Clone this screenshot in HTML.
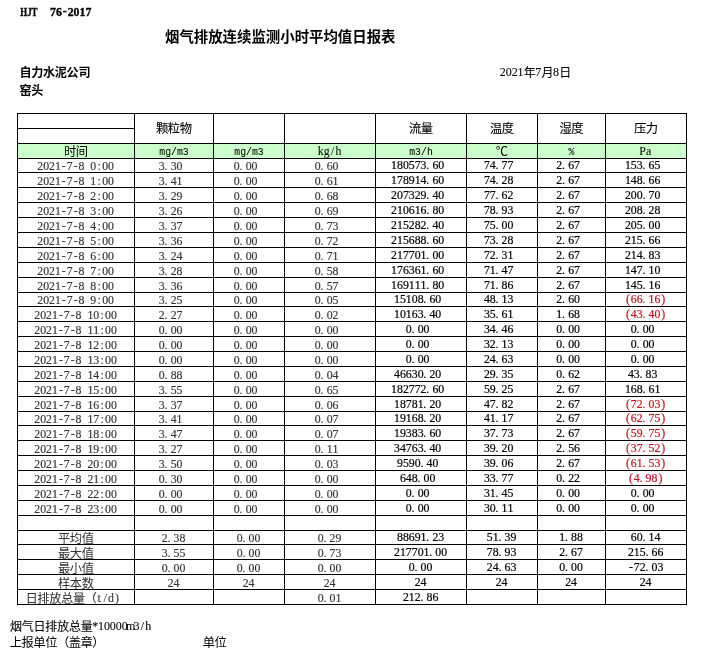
<!DOCTYPE html>
<html lang="zh-CN"><head><meta charset="utf-8"><title>烟气排放连续监测小时平均值日报表</title>
<style>
html,body{margin:0;padding:0;background:#fff}
body{width:708px;height:653px;position:relative;overflow:hidden;color:#000;
  font-family:"Liberation Serif","Noto Sans CJK SC",serif;font-size:11.8px;line-height:12px}
.t,.f{position:absolute;margin:0;white-space:pre}
.t{height:12px;font-weight:normal;font-size:inherit}
svg{display:block;overflow:visible}
text{font-family:"Liberation Serif","Noto Sans CJK SC",serif;font-size:11.8px;white-space:pre;
  fill:currentColor;stroke:currentColor;stroke-width:0.2px}
text.m,text.h{font-family:"Liberation Mono","Noto Sans CJK SC",monospace}
text.h{font-family:"Liberation Serif","Noto Sans CJK SC",serif}
text.x{font-size:12px;stroke-width:0.08px}
th text{stroke-width:0.05px}
th.hh .c{-webkit-text-stroke:0.1px currentColor}
.c{font-size:12.3px;line-height:0;letter-spacing:-0.5px;margin-left:-0.25px;margin-right:0.25px;
  position:relative;top:1px}
.b{font-weight:bold}
.b text{font-weight:bold;stroke-width:0.35px}
.b .c{font-size:12.1px;letter-spacing:-0.3px;margin:0 0 0 -0.6px}
.title{font-size:14.42px;height:16px;line-height:16px}
table{position:absolute;left:17px;top:113px;width:670px;table-layout:fixed;border-collapse:separate;border-spacing:0;
  border-left:1px solid #000;border-top:1px solid #000}
td,th{box-sizing:border-box;height:15px;padding:2px 0 0;border-right:1px solid #000;border-bottom:1px solid #000;
  text-align:center;vertical-align:top;white-space:pre;font-weight:normal;overflow:hidden}
td svg,th svg{width:100%;height:12px}
td{color:#333}
td text{stroke-width:0.15px}
td.k{color:#000;padding-top:1px}
td.k text{stroke-width:0.2px}
tr.s td{height:14px;padding-top:1px}
tr.s td.k{padding-top:0px}
th.hh{height:30px;padding-top:7.5px}
tr.u th{background:#ccffcc;padding-top:1px}
td.r,td.r.k{color:#c8101e}
</style></head>
<body>
<svg class="f b" style="left:20px;top:6px" width="80" height="12"><text class="h" x="0.3" y="10" textLength="17.2" lengthAdjust="spacingAndGlyphs">HJT</text><text x="30 35.9 42.79 47.7 53.6 59.5 65.4" y="10 10 9 10 10 10 10">76-2017</text></svg>
<h1 class="t b title" style="left:165px;top:29px">烟气排放连续监测小时平均值日报表</h1>
<div class="t b" style="left:20px;top:66px"><span class="c">自力水泥公司</span></div>
<div class="t b" style="left:20px;top:83.5px"><span class="c">窑头</span></div>
<svg class="f" style="left:500px;top:66px" width="80" height="12"><text class="x" x="-0.15 5.75 11.65 17.55 23.8 35.25 41.5 52.95 59.2" y="10 10 10 10 11 10 11 10 11">2021年7月8日</text></svg>
<table>
<colgroup><col style="width:117px"><col style="width:79px"><col style="width:71px"><col style="width:91px"><col style="width:91px"><col style="width:71px"><col style="width:68px"><col style="width:81px"></colgroup>
<thead>
<tr><th></th><th class="hh" rowspan="2"><span class="c">颗粒物</span></th><th class="hh" rowspan="2"></th><th class="hh" rowspan="2"></th><th class="hh" rowspan="2"><span class="c">流量</span></th><th class="hh" rowspan="2"><span class="c">温度</span></th><th class="hh" rowspan="2"><span class="c">湿度</span></th><th class="hh" rowspan="2"><span class="c">压力</span></th></tr>
<tr><th></th></tr>
<tr class="u"><th><span class="c">时间</span></th><th><svg><text class="m" x="24.25" y="10" textLength="29.5" lengthAdjust="spacingAndGlyphs">mg/m3</text></svg></th><th><svg><text class="m" x="20.25" y="10" textLength="29.5" lengthAdjust="spacingAndGlyphs">mg/m3</text></svg></th><th><svg><text x="32.8 38.7 45.91 50.5" y="10">kg/h</text></svg></th><th><svg><text class="m" x="33.2" y="10" textLength="23.6" lengthAdjust="spacingAndGlyphs">m3/h</text></svg></th><th><span class="c">℃</span></th><th><svg><text class="m" x="30.55" y="10" textLength="5.9" lengthAdjust="spacingAndGlyphs">%</text></svg></th><th><svg><text x="33.37 39.93" y="10">Pa</text></svg></th></tr>
</thead>
<tbody>
<tr class="s"><td><svg><text x="19.25 25.15 31.05 36.95 43.84 48.75 55.64 60.55 66.45 72.35 79.56 84.15 90.05" y="10 10 10 10 9 10 9 10 10 10 10 10 10">2021-7-8 0:00</text></svg></td><td><svg><text x="23.85 29.55 35.65 41.55" y="10">3.30</text></svg></td><td><svg><text x="19.85 25.55 31.65 37.55" y="10">0.00</text></svg></td><td><svg><text x="29.85 35.55 41.65 47.55" y="10">0.60</text></svg></td><td class="k"><svg><text x="15.1 21 26.9 32.8 38.7 44.6 50.3 56.4 62.3" y="10">180573.60</text></svg></td><td class="k"><svg><text x="16.9 22.8 28.5 34.6 40.5" y="10">74.77</text></svg></td><td class="k"><svg><text x="18.35 24.05 30.15 36.05" y="10">2.67</text></svg></td><td class="k"><svg><text x="18.95 24.85 30.75 36.45 42.55 48.45" y="10">153.65</text></svg></td></tr>
<tr><td><svg><text x="19.25 25.15 31.05 36.95 43.84 48.75 55.64 60.55 66.45 72.35 79.56 84.15 90.05" y="10 10 10 10 9 10 9 10 10 10 10 10 10">2021-7-8 1:00</text></svg></td><td><svg><text x="23.85 29.55 35.65 41.55" y="10">3.41</text></svg></td><td><svg><text x="19.85 25.55 31.65 37.55" y="10">0.00</text></svg></td><td><svg><text x="29.85 35.55 41.65 47.55" y="10">0.61</text></svg></td><td class="k"><svg><text x="15.1 21 26.9 32.8 38.7 44.6 50.3 56.4 62.3" y="10">178914.60</text></svg></td><td class="k"><svg><text x="16.9 22.8 28.5 34.6 40.5" y="10">74.28</text></svg></td><td class="k"><svg><text x="18.35 24.05 30.15 36.05" y="10">2.67</text></svg></td><td class="k"><svg><text x="18.95 24.85 30.75 36.45 42.55 48.45" y="10">148.66</text></svg></td></tr>
<tr><td><svg><text x="19.25 25.15 31.05 36.95 43.84 48.75 55.64 60.55 66.45 72.35 79.56 84.15 90.05" y="10 10 10 10 9 10 9 10 10 10 10 10 10">2021-7-8 2:00</text></svg></td><td><svg><text x="23.85 29.55 35.65 41.55" y="10">3.29</text></svg></td><td><svg><text x="19.85 25.55 31.65 37.55" y="10">0.00</text></svg></td><td><svg><text x="29.85 35.55 41.65 47.55" y="10">0.68</text></svg></td><td class="k"><svg><text x="15.1 21 26.9 32.8 38.7 44.6 50.3 56.4 62.3" y="10">207329.40</text></svg></td><td class="k"><svg><text x="16.9 22.8 28.5 34.6 40.5" y="10">77.62</text></svg></td><td class="k"><svg><text x="18.35 24.05 30.15 36.05" y="10">2.67</text></svg></td><td class="k"><svg><text x="18.95 24.85 30.75 36.45 42.55 48.45" y="10">200.70</text></svg></td></tr>
<tr><td><svg><text x="19.25 25.15 31.05 36.95 43.84 48.75 55.64 60.55 66.45 72.35 79.56 84.15 90.05" y="10 10 10 10 9 10 9 10 10 10 10 10 10">2021-7-8 3:00</text></svg></td><td><svg><text x="23.85 29.55 35.65 41.55" y="10">3.26</text></svg></td><td><svg><text x="19.85 25.55 31.65 37.55" y="10">0.00</text></svg></td><td><svg><text x="29.85 35.55 41.65 47.55" y="10">0.69</text></svg></td><td class="k"><svg><text x="15.1 21 26.9 32.8 38.7 44.6 50.3 56.4 62.3" y="10">210616.80</text></svg></td><td class="k"><svg><text x="16.9 22.8 28.5 34.6 40.5" y="10">78.93</text></svg></td><td class="k"><svg><text x="18.35 24.05 30.15 36.05" y="10">2.67</text></svg></td><td class="k"><svg><text x="18.95 24.85 30.75 36.45 42.55 48.45" y="10">208.28</text></svg></td></tr>
<tr><td><svg><text x="19.25 25.15 31.05 36.95 43.84 48.75 55.64 60.55 66.45 72.35 79.56 84.15 90.05" y="10 10 10 10 9 10 9 10 10 10 10 10 10">2021-7-8 4:00</text></svg></td><td><svg><text x="23.85 29.55 35.65 41.55" y="10">3.37</text></svg></td><td><svg><text x="19.85 25.55 31.65 37.55" y="10">0.00</text></svg></td><td><svg><text x="29.85 35.55 41.65 47.55" y="10">0.73</text></svg></td><td class="k"><svg><text x="15.1 21 26.9 32.8 38.7 44.6 50.3 56.4 62.3" y="10">215282.40</text></svg></td><td class="k"><svg><text x="16.9 22.8 28.5 34.6 40.5" y="10">75.00</text></svg></td><td class="k"><svg><text x="18.35 24.05 30.15 36.05" y="10">2.67</text></svg></td><td class="k"><svg><text x="18.95 24.85 30.75 36.45 42.55 48.45" y="10">205.00</text></svg></td></tr>
<tr><td><svg><text x="19.25 25.15 31.05 36.95 43.84 48.75 55.64 60.55 66.45 72.35 79.56 84.15 90.05" y="10 10 10 10 9 10 9 10 10 10 10 10 10">2021-7-8 5:00</text></svg></td><td><svg><text x="23.85 29.55 35.65 41.55" y="10">3.36</text></svg></td><td><svg><text x="19.85 25.55 31.65 37.55" y="10">0.00</text></svg></td><td><svg><text x="29.85 35.55 41.65 47.55" y="10">0.72</text></svg></td><td class="k"><svg><text x="15.1 21 26.9 32.8 38.7 44.6 50.3 56.4 62.3" y="10">215688.60</text></svg></td><td class="k"><svg><text x="16.9 22.8 28.5 34.6 40.5" y="10">73.28</text></svg></td><td class="k"><svg><text x="18.35 24.05 30.15 36.05" y="10">2.67</text></svg></td><td class="k"><svg><text x="18.95 24.85 30.75 36.45 42.55 48.45" y="10">215.66</text></svg></td></tr>
<tr><td><svg><text x="19.25 25.15 31.05 36.95 43.84 48.75 55.64 60.55 66.45 72.35 79.56 84.15 90.05" y="10 10 10 10 9 10 9 10 10 10 10 10 10">2021-7-8 6:00</text></svg></td><td><svg><text x="23.85 29.55 35.65 41.55" y="10">3.24</text></svg></td><td><svg><text x="19.85 25.55 31.65 37.55" y="10">0.00</text></svg></td><td><svg><text x="29.85 35.55 41.65 47.55" y="10">0.71</text></svg></td><td class="k"><svg><text x="15.1 21 26.9 32.8 38.7 44.6 50.3 56.4 62.3" y="10">217701.00</text></svg></td><td class="k"><svg><text x="16.9 22.8 28.5 34.6 40.5" y="10">72.31</text></svg></td><td class="k"><svg><text x="18.35 24.05 30.15 36.05" y="10">2.67</text></svg></td><td class="k"><svg><text x="18.95 24.85 30.75 36.45 42.55 48.45" y="10">214.83</text></svg></td></tr>
<tr><td><svg><text x="19.25 25.15 31.05 36.95 43.84 48.75 55.64 60.55 66.45 72.35 79.56 84.15 90.05" y="10 10 10 10 9 10 9 10 10 10 10 10 10">2021-7-8 7:00</text></svg></td><td><svg><text x="23.85 29.55 35.65 41.55" y="10">3.28</text></svg></td><td><svg><text x="19.85 25.55 31.65 37.55" y="10">0.00</text></svg></td><td><svg><text x="29.85 35.55 41.65 47.55" y="10">0.58</text></svg></td><td class="k"><svg><text x="15.1 21 26.9 32.8 38.7 44.6 50.3 56.4 62.3" y="10">176361.60</text></svg></td><td class="k"><svg><text x="16.9 22.8 28.5 34.6 40.5" y="10">71.47</text></svg></td><td class="k"><svg><text x="18.35 24.05 30.15 36.05" y="10">2.67</text></svg></td><td class="k"><svg><text x="18.95 24.85 30.75 36.45 42.55 48.45" y="10">147.10</text></svg></td></tr>
<tr><td><svg><text x="19.25 25.15 31.05 36.95 43.84 48.75 55.64 60.55 66.45 72.35 79.56 84.15 90.05" y="10 10 10 10 9 10 9 10 10 10 10 10 10">2021-7-8 8:00</text></svg></td><td><svg><text x="23.85 29.55 35.65 41.55" y="10">3.36</text></svg></td><td><svg><text x="19.85 25.55 31.65 37.55" y="10">0.00</text></svg></td><td><svg><text x="29.85 35.55 41.65 47.55" y="10">0.57</text></svg></td><td class="k"><svg><text x="15.1 21 26.9 32.8 38.7 44.6 50.3 56.4 62.3" y="10">169111.80</text></svg></td><td class="k"><svg><text x="16.9 22.8 28.5 34.6 40.5" y="10">71.86</text></svg></td><td class="k"><svg><text x="18.35 24.05 30.15 36.05" y="10">2.67</text></svg></td><td class="k"><svg><text x="18.95 24.85 30.75 36.45 42.55 48.45" y="10">145.16</text></svg></td></tr>
<tr class="s"><td><svg><text x="19.25 25.15 31.05 36.95 43.84 48.75 55.64 60.55 66.45 72.35 79.56 84.15 90.05" y="10 10 10 10 9 10 9 10 10 10 10 10 10">2021-7-8 9:00</text></svg></td><td><svg><text x="23.85 29.55 35.65 41.55" y="10">3.25</text></svg></td><td><svg><text x="19.85 25.55 31.65 37.55" y="10">0.00</text></svg></td><td><svg><text x="29.85 35.55 41.65 47.55" y="10">0.05</text></svg></td><td class="k"><svg><text x="18.05 23.95 29.85 35.75 41.65 47.35 53.45 59.35" y="10">15108.60</text></svg></td><td class="k"><svg><text x="16.9 22.8 28.5 34.6 40.5" y="10">48.13</text></svg></td><td class="k"><svg><text x="18.35 24.05 30.15 36.05" y="10">2.60</text></svg></td><td class="r k"><svg><text x="19.94 24.85 30.75 36.45 42.55 48.45 55.34" y="10">(66.16)</text></svg></td></tr>
<tr><td><svg><text x="16.3 22.2 28.1 34 40.89 45.8 52.69 57.6 63.5 69.4 75.3 82.51 87.1 93" y="10 10 10 10 9 10 9 10 10 10 10 10 10 10">2021-7-8 10:00</text></svg></td><td><svg><text x="23.85 29.55 35.65 41.55" y="10">2.27</text></svg></td><td><svg><text x="19.85 25.55 31.65 37.55" y="10">0.00</text></svg></td><td><svg><text x="29.85 35.55 41.65 47.55" y="10">0.02</text></svg></td><td class="k"><svg><text x="18.05 23.95 29.85 35.75 41.65 47.35 53.45 59.35" y="10">10163.40</text></svg></td><td class="k"><svg><text x="16.9 22.8 28.5 34.6 40.5" y="10">35.61</text></svg></td><td class="k"><svg><text x="18.35 24.05 30.15 36.05" y="10">1.68</text></svg></td><td class="r k"><svg><text x="19.94 24.85 30.75 36.45 42.55 48.45 55.34" y="10">(43.40)</text></svg></td></tr>
<tr><td><svg><text x="16.3 22.2 28.1 34 40.89 45.8 52.69 57.6 63.5 69.4 75.3 82.51 87.1 93" y="10 10 10 10 9 10 9 10 10 10 10 10 10 10">2021-7-8 11:00</text></svg></td><td><svg><text x="23.85 29.55 35.65 41.55" y="10">0.00</text></svg></td><td><svg><text x="19.85 25.55 31.65 37.55" y="10">0.00</text></svg></td><td><svg><text x="29.85 35.55 41.65 47.55" y="10">0.00</text></svg></td><td class="k"><svg><text x="29.85 35.55 41.65 47.55" y="10">0.00</text></svg></td><td class="k"><svg><text x="16.9 22.8 28.5 34.6 40.5" y="10">34.46</text></svg></td><td class="k"><svg><text x="18.35 24.05 30.15 36.05" y="10">0.00</text></svg></td><td class="k"><svg><text x="24.85 30.55 36.65 42.55" y="10">0.00</text></svg></td></tr>
<tr><td><svg><text x="16.3 22.2 28.1 34 40.89 45.8 52.69 57.6 63.5 69.4 75.3 82.51 87.1 93" y="10 10 10 10 9 10 9 10 10 10 10 10 10 10">2021-7-8 12:00</text></svg></td><td><svg><text x="23.85 29.55 35.65 41.55" y="10">0.00</text></svg></td><td><svg><text x="19.85 25.55 31.65 37.55" y="10">0.00</text></svg></td><td><svg><text x="29.85 35.55 41.65 47.55" y="10">0.00</text></svg></td><td class="k"><svg><text x="29.85 35.55 41.65 47.55" y="10">0.00</text></svg></td><td class="k"><svg><text x="16.9 22.8 28.5 34.6 40.5" y="10">32.13</text></svg></td><td class="k"><svg><text x="18.35 24.05 30.15 36.05" y="10">0.00</text></svg></td><td class="k"><svg><text x="24.85 30.55 36.65 42.55" y="10">0.00</text></svg></td></tr>
<tr><td><svg><text x="16.3 22.2 28.1 34 40.89 45.8 52.69 57.6 63.5 69.4 75.3 82.51 87.1 93" y="10 10 10 10 9 10 9 10 10 10 10 10 10 10">2021-7-8 13:00</text></svg></td><td><svg><text x="23.85 29.55 35.65 41.55" y="10">0.00</text></svg></td><td><svg><text x="19.85 25.55 31.65 37.55" y="10">0.00</text></svg></td><td><svg><text x="29.85 35.55 41.65 47.55" y="10">0.00</text></svg></td><td class="k"><svg><text x="29.85 35.55 41.65 47.55" y="10">0.00</text></svg></td><td class="k"><svg><text x="16.9 22.8 28.5 34.6 40.5" y="10">24.63</text></svg></td><td class="k"><svg><text x="18.35 24.05 30.15 36.05" y="10">0.00</text></svg></td><td class="k"><svg><text x="24.85 30.55 36.65 42.55" y="10">0.00</text></svg></td></tr>
<tr><td><svg><text x="16.3 22.2 28.1 34 40.89 45.8 52.69 57.6 63.5 69.4 75.3 82.51 87.1 93" y="10 10 10 10 9 10 9 10 10 10 10 10 10 10">2021-7-8 14:00</text></svg></td><td><svg><text x="23.85 29.55 35.65 41.55" y="10">0.88</text></svg></td><td><svg><text x="19.85 25.55 31.65 37.55" y="10">0.00</text></svg></td><td><svg><text x="29.85 35.55 41.65 47.55" y="10">0.04</text></svg></td><td class="k"><svg><text x="18.05 23.95 29.85 35.75 41.65 47.35 53.45 59.35" y="10">46630.20</text></svg></td><td class="k"><svg><text x="16.9 22.8 28.5 34.6 40.5" y="10">29.35</text></svg></td><td class="k"><svg><text x="18.35 24.05 30.15 36.05" y="10">0.62</text></svg></td><td class="k"><svg><text x="21.9 27.8 33.5 39.6 45.5" y="10">43.83</text></svg></td></tr>
<tr><td><svg><text x="16.3 22.2 28.1 34 40.89 45.8 52.69 57.6 63.5 69.4 75.3 82.51 87.1 93" y="10 10 10 10 9 10 9 10 10 10 10 10 10 10">2021-7-8 15:00</text></svg></td><td><svg><text x="23.85 29.55 35.65 41.55" y="10">3.55</text></svg></td><td><svg><text x="19.85 25.55 31.65 37.55" y="10">0.00</text></svg></td><td><svg><text x="29.85 35.55 41.65 47.55" y="10">0.65</text></svg></td><td class="k"><svg><text x="15.1 21 26.9 32.8 38.7 44.6 50.3 56.4 62.3" y="10">182772.60</text></svg></td><td class="k"><svg><text x="16.9 22.8 28.5 34.6 40.5" y="10">59.25</text></svg></td><td class="k"><svg><text x="18.35 24.05 30.15 36.05" y="10">2.67</text></svg></td><td class="k"><svg><text x="18.95 24.85 30.75 36.45 42.55 48.45" y="10">168.61</text></svg></td></tr>
<tr><td><svg><text x="16.3 22.2 28.1 34 40.89 45.8 52.69 57.6 63.5 69.4 75.3 82.51 87.1 93" y="10 10 10 10 9 10 9 10 10 10 10 10 10 10">2021-7-8 16:00</text></svg></td><td><svg><text x="23.85 29.55 35.65 41.55" y="10">3.37</text></svg></td><td><svg><text x="19.85 25.55 31.65 37.55" y="10">0.00</text></svg></td><td><svg><text x="29.85 35.55 41.65 47.55" y="10">0.06</text></svg></td><td class="k"><svg><text x="18.05 23.95 29.85 35.75 41.65 47.35 53.45 59.35" y="10">18781.20</text></svg></td><td class="k"><svg><text x="16.9 22.8 28.5 34.6 40.5" y="10">47.82</text></svg></td><td class="k"><svg><text x="18.35 24.05 30.15 36.05" y="10">2.67</text></svg></td><td class="r k"><svg><text x="19.94 24.85 30.75 36.45 42.55 48.45 55.34" y="10">(72.03)</text></svg></td></tr>
<tr class="s"><td><svg><text x="16.3 22.2 28.1 34 40.89 45.8 52.69 57.6 63.5 69.4 75.3 82.51 87.1 93" y="10 10 10 10 9 10 9 10 10 10 10 10 10 10">2021-7-8 17:00</text></svg></td><td><svg><text x="23.85 29.55 35.65 41.55" y="10">3.41</text></svg></td><td><svg><text x="19.85 25.55 31.65 37.55" y="10">0.00</text></svg></td><td><svg><text x="29.85 35.55 41.65 47.55" y="10">0.07</text></svg></td><td class="k"><svg><text x="18.05 23.95 29.85 35.75 41.65 47.35 53.45 59.35" y="10">19168.20</text></svg></td><td class="k"><svg><text x="16.9 22.8 28.5 34.6 40.5" y="10">41.17</text></svg></td><td class="k"><svg><text x="18.35 24.05 30.15 36.05" y="10">2.67</text></svg></td><td class="r k"><svg><text x="19.94 24.85 30.75 36.45 42.55 48.45 55.34" y="10">(62.75)</text></svg></td></tr>
<tr><td><svg><text x="16.3 22.2 28.1 34 40.89 45.8 52.69 57.6 63.5 69.4 75.3 82.51 87.1 93" y="10 10 10 10 9 10 9 10 10 10 10 10 10 10">2021-7-8 18:00</text></svg></td><td><svg><text x="23.85 29.55 35.65 41.55" y="10">3.47</text></svg></td><td><svg><text x="19.85 25.55 31.65 37.55" y="10">0.00</text></svg></td><td><svg><text x="29.85 35.55 41.65 47.55" y="10">0.07</text></svg></td><td class="k"><svg><text x="18.05 23.95 29.85 35.75 41.65 47.35 53.45 59.35" y="10">19383.60</text></svg></td><td class="k"><svg><text x="16.9 22.8 28.5 34.6 40.5" y="10">37.73</text></svg></td><td class="k"><svg><text x="18.35 24.05 30.15 36.05" y="10">2.67</text></svg></td><td class="r k"><svg><text x="19.94 24.85 30.75 36.45 42.55 48.45 55.34" y="10">(59.75)</text></svg></td></tr>
<tr><td><svg><text x="16.3 22.2 28.1 34 40.89 45.8 52.69 57.6 63.5 69.4 75.3 82.51 87.1 93" y="10 10 10 10 9 10 9 10 10 10 10 10 10 10">2021-7-8 19:00</text></svg></td><td><svg><text x="23.85 29.55 35.65 41.55" y="10">3.27</text></svg></td><td><svg><text x="19.85 25.55 31.65 37.55" y="10">0.00</text></svg></td><td><svg><text x="29.85 35.55 41.65 47.55" y="10">0.11</text></svg></td><td class="k"><svg><text x="18.05 23.95 29.85 35.75 41.65 47.35 53.45 59.35" y="10">34763.40</text></svg></td><td class="k"><svg><text x="16.9 22.8 28.5 34.6 40.5" y="10">39.20</text></svg></td><td class="k"><svg><text x="18.35 24.05 30.15 36.05" y="10">2.56</text></svg></td><td class="r k"><svg><text x="19.94 24.85 30.75 36.45 42.55 48.45 55.34" y="10">(37.52)</text></svg></td></tr>
<tr><td><svg><text x="16.3 22.2 28.1 34 40.89 45.8 52.69 57.6 63.5 69.4 75.3 82.51 87.1 93" y="10 10 10 10 9 10 9 10 10 10 10 10 10 10">2021-7-8 20:00</text></svg></td><td><svg><text x="23.85 29.55 35.65 41.55" y="10">3.50</text></svg></td><td><svg><text x="19.85 25.55 31.65 37.55" y="10">0.00</text></svg></td><td><svg><text x="29.85 35.55 41.65 47.55" y="10">0.03</text></svg></td><td class="k"><svg><text x="21 26.9 32.8 38.7 44.4 50.5 56.4" y="10">9590.40</text></svg></td><td class="k"><svg><text x="16.9 22.8 28.5 34.6 40.5" y="10">39.06</text></svg></td><td class="k"><svg><text x="18.35 24.05 30.15 36.05" y="10">2.67</text></svg></td><td class="r k"><svg><text x="19.94 24.85 30.75 36.45 42.55 48.45 55.34" y="10">(61.53)</text></svg></td></tr>
<tr><td><svg><text x="16.3 22.2 28.1 34 40.89 45.8 52.69 57.6 63.5 69.4 75.3 82.51 87.1 93" y="10 10 10 10 9 10 9 10 10 10 10 10 10 10">2021-7-8 21:00</text></svg></td><td><svg><text x="23.85 29.55 35.65 41.55" y="10">0.30</text></svg></td><td><svg><text x="19.85 25.55 31.65 37.55" y="10">0.00</text></svg></td><td><svg><text x="29.85 35.55 41.65 47.55" y="10">0.00</text></svg></td><td class="k"><svg><text x="23.95 29.85 35.75 41.45 47.55 53.45" y="10">648.00</text></svg></td><td class="k"><svg><text x="16.9 22.8 28.5 34.6 40.5" y="10">33.77</text></svg></td><td class="k"><svg><text x="18.35 24.05 30.15 36.05" y="10">0.22</text></svg></td><td class="r k"><svg><text x="22.89 27.8 33.5 39.6 45.5 52.39" y="10">(4.98)</text></svg></td></tr>
<tr><td><svg><text x="16.3 22.2 28.1 34 40.89 45.8 52.69 57.6 63.5 69.4 75.3 82.51 87.1 93" y="10 10 10 10 9 10 9 10 10 10 10 10 10 10">2021-7-8 22:00</text></svg></td><td><svg><text x="23.85 29.55 35.65 41.55" y="10">0.00</text></svg></td><td><svg><text x="19.85 25.55 31.65 37.55" y="10">0.00</text></svg></td><td><svg><text x="29.85 35.55 41.65 47.55" y="10">0.00</text></svg></td><td class="k"><svg><text x="29.85 35.55 41.65 47.55" y="10">0.00</text></svg></td><td class="k"><svg><text x="16.9 22.8 28.5 34.6 40.5" y="10">31.45</text></svg></td><td class="k"><svg><text x="18.35 24.05 30.15 36.05" y="10">0.00</text></svg></td><td class="k"><svg><text x="24.85 30.55 36.65 42.55" y="10">0.00</text></svg></td></tr>
<tr><td><svg><text x="16.3 22.2 28.1 34 40.89 45.8 52.69 57.6 63.5 69.4 75.3 82.51 87.1 93" y="10 10 10 10 9 10 9 10 10 10 10 10 10 10">2021-7-8 23:00</text></svg></td><td><svg><text x="23.85 29.55 35.65 41.55" y="10">0.00</text></svg></td><td><svg><text x="19.85 25.55 31.65 37.55" y="10">0.00</text></svg></td><td><svg><text x="29.85 35.55 41.65 47.55" y="10">0.00</text></svg></td><td class="k"><svg><text x="29.85 35.55 41.65 47.55" y="10">0.00</text></svg></td><td class="k"><svg><text x="16.9 22.8 28.5 34.6 40.5" y="10">30.11</text></svg></td><td class="k"><svg><text x="18.35 24.05 30.15 36.05" y="10">0.00</text></svg></td><td class="k"><svg><text x="24.85 30.55 36.65 42.55" y="10">0.00</text></svg></td></tr>
<tr><td></td><td></td><td></td><td></td><td></td><td></td><td></td><td></td></tr>
<tr class="s"><td><span class="c">平均值</span></td><td><svg><text x="26.8 32.5 38.6 44.5" y="10">2.38</text></svg></td><td><svg><text x="22.8 28.5 34.6 40.5" y="10">0.00</text></svg></td><td><svg><text x="32.8 38.5 44.6 50.5" y="10">0.29</text></svg></td><td class="k"><svg><text x="21 26.9 32.8 38.7 44.6 50.3 56.4 62.3" y="10">88691.23</text></svg></td><td class="k"><svg><text x="19.85 25.75 31.45 37.55 43.45" y="10">51.39</text></svg></td><td class="k"><svg><text x="21.3 27 33.1 39" y="10">1.88</text></svg></td><td class="k"><svg><text x="24.85 30.75 36.45 42.55 48.45" y="10">60.14</text></svg></td></tr>
<tr><td><span class="c">最大值</span></td><td><svg><text x="26.8 32.5 38.6 44.5" y="10">3.55</text></svg></td><td><svg><text x="22.8 28.5 34.6 40.5" y="10">0.00</text></svg></td><td><svg><text x="32.8 38.5 44.6 50.5" y="10">0.73</text></svg></td><td class="k"><svg><text x="18.05 23.95 29.85 35.75 41.65 47.55 53.25 59.35 65.25" y="10">217701.00</text></svg></td><td class="k"><svg><text x="19.85 25.75 31.45 37.55 43.45" y="10">78.93</text></svg></td><td class="k"><svg><text x="21.3 27 33.1 39" y="10">2.67</text></svg></td><td class="k"><svg><text x="21.9 27.8 33.7 39.4 45.5 51.4" y="10">215.66</text></svg></td></tr>
<tr><td><span class="c">最小值</span></td><td><svg><text x="26.8 32.5 38.6 44.5" y="10">0.00</text></svg></td><td><svg><text x="22.8 28.5 34.6 40.5" y="10">0.00</text></svg></td><td><svg><text x="32.8 38.5 44.6 50.5" y="10">0.00</text></svg></td><td class="k"><svg><text x="32.8 38.5 44.6 50.5" y="10">0.00</text></svg></td><td class="k"><svg><text x="19.85 25.75 31.45 37.55 43.45" y="10">24.63</text></svg></td><td class="k"><svg><text x="21.3 27 33.1 39" y="10">0.00</text></svg></td><td class="k"><svg><text x="22.89 27.8 33.7 39.4 45.5 51.4" y="9 10 10 10 10 10">-72.03</text></svg></td></tr>
<tr><td><span class="c">样本数</span></td><td><svg><text x="32.7 38.6" y="10">24</text></svg></td><td><svg><text x="28.7 34.6" y="10">24</text></svg></td><td><svg><text x="38.7 44.6" y="10">24</text></svg></td><td class="k"><svg><text x="38.7 44.6" y="10">24</text></svg></td><td class="k"><svg><text x="28.7 34.6" y="10">24</text></svg></td><td class="k"><svg><text x="27.2 33.1" y="10">24</text></svg></td><td class="k"><svg><text x="33.7 39.6" y="10">24</text></svg></td></tr>
<tr><td><svg><text class="x" x="7.75 19.55 31.35 43.15 54.95 66.75 79.53 85.43 90 96.9" y="11 11 11 11 11 11 10 10 10 10">日排放总量（t/d)</text></svg></td><td></td><td></td><td><svg><text x="32.8 38.5 44.6 50.5" y="10">0.01</text></svg></td><td class="k"><svg><text x="26.9 32.8 38.7 44.4 50.5 56.4" y="10">212.86</text></svg></td><td></td><td></td><td></td></tr>
</tbody>
</table>
<svg class="f" style="left:10px;top:620px" width="150" height="12"><text class="x" x="-0.1 11.7 23.5 35.3 47.1 58.9 70.7 82.15 88.05 93.95 99.85 105.75 111.65 115.88 123.45 130.68 135.25" y="11 11 11 11 11 11 11 10 10 10 10 10 10 10 10 10 10">烟气日排放总量*10000m3/h</text></svg>
<div class="t" style="left:10px;top:635.5px"><span class="c">上报单位（盖章）</span></div>
<div class="t" style="left:203px;top:635.5px"><span class="c">单位</span></div>
</body></html>
